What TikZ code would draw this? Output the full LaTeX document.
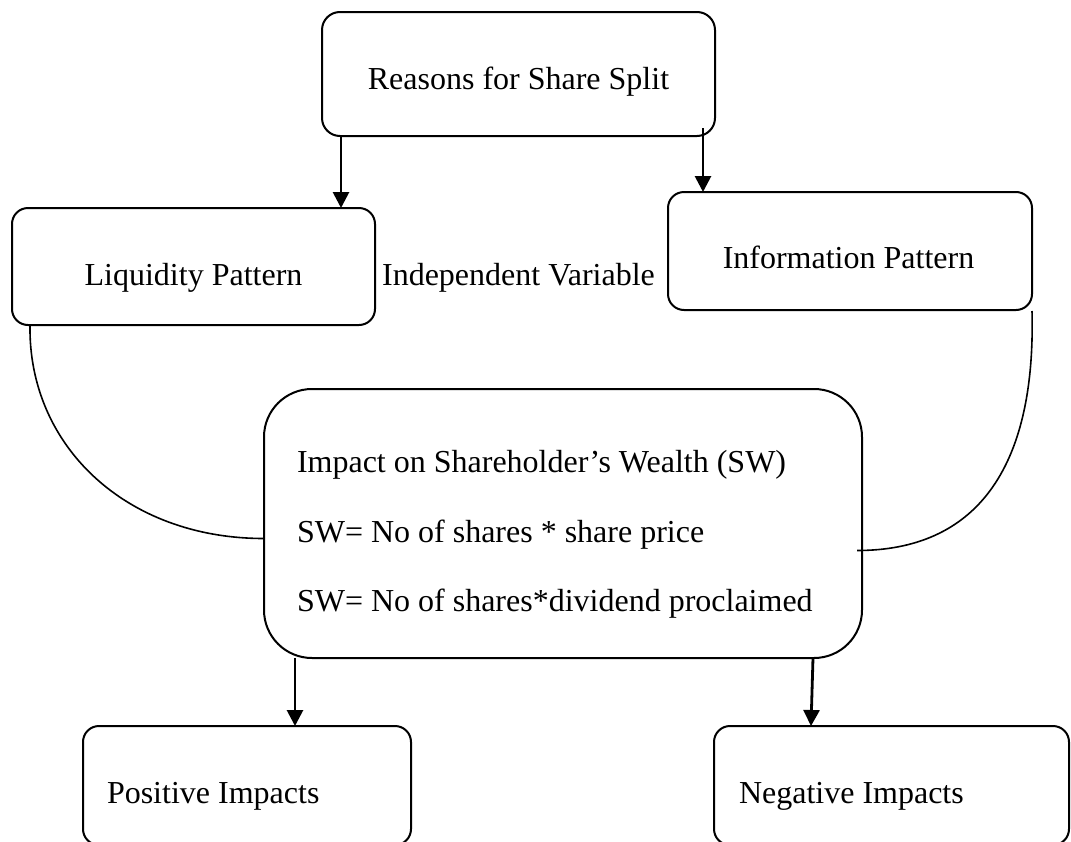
\documentclass[tikz,border=0pt]{standalone}
\usepackage{fontspec}
\setmainfont{Liberation Serif}
\usetikzlibrary{arrows.meta,calc}
\begin{document}
\begin{tikzpicture}[x=0.5pt,y=-0.5pt,
  box/.style={draw, line width=1pt, rounded corners=8pt, inner sep=0pt, outer sep=0pt},
  lbl/.style={inner sep=0pt, outer sep=0pt, font=\fontsize{16}{19}\selectfont},
  arr/.style={line width=1.4pt, -{Triangle[length=8pt,width=8pt]}},
  link/.style={line width=0.8pt}]
\useasboundingbox (0,0) rectangle (1071,841);

% boxes
\node[box, rounded corners=9pt, minimum width=196.5pt, minimum height=62pt] (top) at (518.5,74) {};
\node[box, minimum width=181.5pt, minimum height=58.5pt] (liq) at (193.5,266.5) {};
\node[box, minimum width=182pt, minimum height=59pt] (info) at (850,251) {};
\node[box, rounded corners=24pt, minimum width=299pt, minimum height=134.5pt] (ctr) at (563,523.5) {};
\node[box, minimum width=164pt, minimum height=59.5pt] (pos) at (247,785.5) {};
\node[box, minimum width=177.5pt, minimum height=59.5pt] (neg) at (891.5,785.5) {};

% texts
\node[lbl, anchor=base] (ttop) at (518.5,89) {Reasons for Share Split};
\node[lbl, anchor=base] (tliq) at (193.5,285) {Liquidity Pattern};
\node[lbl, anchor=base] (tinfo) at (848.5,268) {Information Pattern};
\node[lbl, anchor=base] (tind) at (518.5,285) {Independent Variable};
\node[lbl, anchor=base west] (tc1) at (297,472) {Impact on Shareholder’s Wealth (SW)};
\node[lbl, anchor=base west] (tc2) at (297,542) {SW= No of shares * share price};
\node[lbl, anchor=base west] (tc3) at (297,611) {SW= No of shares*dividend proclaimed};
\node[lbl, anchor=base west] (tpos) at (107,803) {Positive Impacts};
\node[lbl, anchor=base west] (tneg) at (739,803) {Negative Impacts};

% arrows
\coordinate (s1) at ($(top.south west)+(19,0)$);
\draw[arr] (s1) -- (s1 |- liq.north);
\coordinate (s2) at ($(top.south east)+(-12,-8)$);
\draw[arr] (s2) -- (s2 |- info.north);
\coordinate (s3) at ($(ctr.south west)+(31,0)$);
\draw[arr] (s3) -- (s3 |- pos.north);
\coordinate (s4) at ($(ctr.south east)+(-49,0)$);
\coordinate (e4) at ($(s4 |- neg.north)+(-2,0)$);
\draw[arr] (s4) -- (e4);

% curved links
\coordinate (c1) at ($(liq.south west)+(18,0)$);
\coordinate (c2) at ($(ctr.west)+(0,15)$);
\draw[link] (c1) .. controls ($(c1)+(-2,120)$) and ($(c2)+(-139,0)$) .. (c2);
\coordinate (c3) at ($(info.south east)+(0,1)$);
\coordinate (c4) at ($(ctr.east)+(-5,27)$);
\draw[link] (c3) .. controls ($(c3)+(4,159)$) and ($(c4)+(118,0)$) .. (c4);
\end{tikzpicture}
\end{document}
